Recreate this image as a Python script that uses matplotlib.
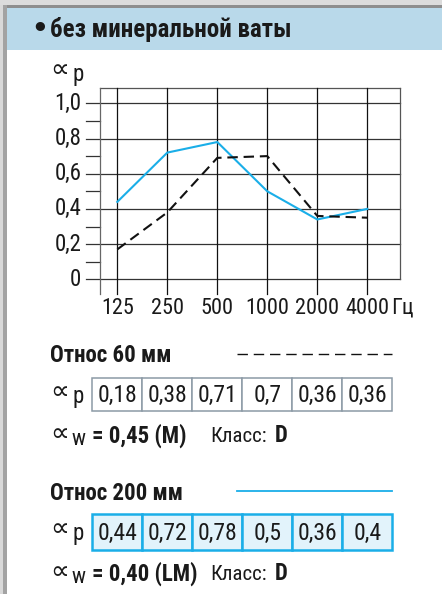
import matplotlib
matplotlib.use("Agg")
import matplotlib.pyplot as plt
from matplotlib import font_manager
from matplotlib.patches import Rectangle

# pick a narrow sans that exists here
have = {f.name for f in font_manager.fontManager.ttflist}
prefs = ['Liberation Sans Narrow', 'Arial Narrow', 'Roboto Condensed', 'PT Sans Narrow',
         'Archivo Narrow', 'IBM Plex Sans Condensed', 'Fira Sans Condensed',
         'Sofia Sans Condensed', 'Liberation Sans']
narrow = [p for p in prefs if p in have][0]
plt.rcParams['font.family'] = [narrow, 'DejaVu Sans']

# data
freqs = ['125', '250', '500', '1000', '2000', '4000']
yticks = [0, 0.2, 0.4, 0.6, 0.8, 1.0]
ytick_labels = ['0', '0,2', '0,4', '0,6', '0,8', '1,0']
curve_60 = [0.17, 0.38, 0.69, 0.70, 0.36, 0.35]
curve_200 = [0.44, 0.72, 0.78, 0.50, 0.34, 0.40]
table_60 = ['0,18', '0,38', '0,71', '0,7', '0,36', '0,36']
table_200 = ['0,44', '0,72', '0,78', '0,5', '0,36', '0,4']
title = 'без минеральной ваты'
label_60 = 'Относ 60 мм'
label_200 = 'Относ 200 мм'
aw_60 = '= 0,45 (M)'
aw_200 = '= 0,40 (LM)'
klass = 'D'

W, H = 442, 594
BLUE = '#1aaee8'
INK = '#1a1a1a'
fig = plt.figure(figsize=(W / 100, H / 100), dpi=100)

# overlay in pixel coords for the frame / header / tables
ov = fig.add_axes([0, 0, 1, 1])
ov.set_xlim(0, W)
ov.set_ylim(H, 0)
ov.axis('off')
ov.add_patch(Rectangle((0, 0), W, 5, color='#dcdcdc', lw=0))
ov.add_patch(Rectangle((0, 5), W, 3, color='#8e8e8e', lw=0))
ov.add_patch(Rectangle((7, 8), W - 7, 42, color='#b9d9ea', lw=0))
ov.add_patch(Rectangle((0, 5), 3, H, color='#d9d9d9', lw=0))
ov.add_patch(Rectangle((3, 5), 4, H, color='#a3a3a3', lw=0))
ov.text(31, 30, '•', fontsize=19, fontweight='bold', va='center', color=INK,
        family=['DejaVu Sans'])
ov.text(50, 30, title, fontsize=18, fontweight='bold', va='center', color=INK)

# chart axes: pixel box x 86..400, y 88..294
ax = fig.add_axes([86 / W, 1 - 294 / H, (400 - 86) / W, (294 - 88) / H])
xl, xf, xr = -0.626, -0.346, 5.654
yb, yt = -0.0835, 1.087
ax.set_xlim(xl, xr)
ax.set_ylim(yb, yt)
ax.axis('off')
xs = list(range(len(freqs)))

for v in yticks:
    ax.plot([xl, xr], [v, v], color='#333333', lw=0.9, clip_on=False)
for v in [0.1, 0.3, 0.5, 0.7, 0.9]:
    ax.plot([xl, xf], [v, v], color='#333333', lw=0.9, clip_on=False)
ax.plot([xf, xr], [yt, yt], color='#555555', lw=0.9, clip_on=False)
ax.plot([xf, xf], [yb, yt], color='#666666', lw=0.9, clip_on=False)
ax.plot([xr, xr], [0, yt], color='#555555', lw=0.9, clip_on=False)
for x in xs:
    ax.plot([x, x], [yb, yt], color='#111111', lw=0.9, clip_on=False)

ax.plot(xs, curve_200, color=BLUE, lw=1.5, clip_on=False)
ax.plot(xs, curve_60, color='#111111', lw=1.5, dashes=(5, 2.8), clip_on=False)

for v, lab in zip(yticks, ytick_labels):
    ax.text(-0.72, v, lab, fontsize=16.5, ha='right', va='center', color=INK)
for x, lab in zip(xs, freqs):
    ax.text(x, -0.165, lab, fontsize=16, ha='center', va='center', color=INK)
ax.text(5.47, -0.165, 'Гц', fontsize=16, ha='left', va='center', color=INK)


def alpha(x, y, sub, size=16.5):
    # y = centre of the alpha sign, sub sits on a baseline below it
    ov.text(x, y, '∝', fontsize=19, ha='left', va='center', color=INK,
            family=['DejaVu Sans'])
    ov.text(x + 22, y + 11, sub, fontsize=size, ha='left', va='baseline', color=INK)


alpha(50, 70, 'p')


# tables: cells centred on the chart columns (50 px per column)
def col_px(i):
    return 117.3 + 50 * i


def row(y0, h, values, label, aw, ec, fc, lw, ylab, ya, line_kw):
    ov.text(50, ylab, label, fontsize=16.5, fontweight='bold', va='center', color=INK)
    ov.plot([237, 392], [ylab - 2, ylab - 2], **line_kw)
    for i, val in enumerate(values):
        cx = col_px(i)
        ov.add_patch(Rectangle((cx - 25, y0), 50, h, facecolor=fc, edgecolor=ec, lw=lw))
        ov.text(cx, y0 + h / 2 + 1, val, fontsize=17, ha='center', va='center', color=INK)
    alpha(50, y0 + h / 2 - 3, 'p')
    alpha(50, ya, 'w', size=15.5)
    ov.text(92, ya + 2, aw, fontsize=16.5, fontweight='bold', va='center', color=INK)
    ov.text(210, ya + 2, 'Класс:', fontsize=15, va='center', color=INK)
    ov.text(275, ya + 2, klass, fontsize=16.5, fontweight='bold', va='center', color=INK)


row(378, 33, table_60, label_60, aw_60, '#8c9aa6', 'white', 1.1, 356, 434,
    dict(color='#111111', lw=1.0, dashes=(7.5, 4.2)))
row(514, 36, table_200, label_200, aw_200, BLUE, '#e2f3fb', 1.8, 493, 572,
    dict(color=BLUE, lw=1.3))

fig.savefig('out.png', dpi=100)
